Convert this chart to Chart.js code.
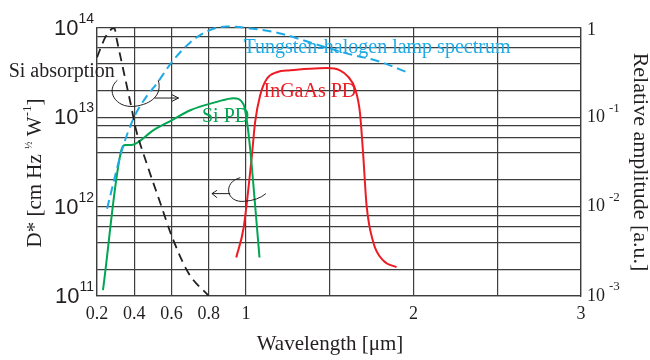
<!DOCTYPE html>
<html>
<head>
<meta charset="utf-8">
<script src="https://cdn.jsdelivr.net/npm/chart.js@4.4.1/dist/chart.umd.min.js"></script>
<style>
  html, body { margin: 0; padding: 0; background: #fff; }
  #wrap { width: 650px; height: 360px; }
</style>
</head>
<body>
<div id="wrap"><canvas id="chart" width="650" height="360"></canvas></div>
<script>
// ---- data (wavelength in um) ----
const siAbsWl = [0.20, 0.245, 0.28, 0.293, 0.307, 0.334, 0.361, 0.388, 0.406, 0.468, 0.54, 0.603, 0.692, 0.80];
const siAbsAmp = [0.47, 0.79, 0.98, 1.0, 0.73, 0.40, 0.22, 0.12, 0.078, 0.030, 0.011, 0.0046, 0.0018, 0.001];

const lampWl = [0.254, 0.334, 0.397, 0.459, 0.522, 0.604, 0.701, 0.792, 0.898, 1.026, 1.204, 1.403, 1.601, 1.799, 1.978];
const lampAmp = [0.0095, 0.043, 0.098, 0.163, 0.24, 0.42, 0.69, 0.92, 1.04, 0.99, 0.87, 0.67, 0.52, 0.42, 0.31];

const siPdWl = [0.232, 0.334, 0.352, 0.383, 0.504, 0.603, 0.701, 0.844, 0.933, 0.987, 1.006, 1.026, 1.055, 1.081];
const siPdD = [1.16e11, 4.5e12, 4.9e12, 4.9e12, 7.2e12, 9.3e12, 1.2e13, 1.49e13, 1.64e13, 1.40e13, 9.0e12, 4.3e12, 1.03e12, 2.7e11];

const ingaasWl = [0.948, 0.987, 1.015, 1.036, 1.055, 1.085, 1.125, 1.185, 1.264, 1.383, 1.482, 1.561, 1.611, 1.651, 1.680, 1.700, 1.720, 1.760, 1.819, 1.899];
const ingaasD = [2.7e11, 5.7e11, 1.6e12, 3.8e12, 8.9e12, 1.77e13, 2.7e13, 3.2e13, 3.36e13, 3.5e13, 3.56e13, 3.36e13, 2.83e13, 2.1e13, 1.15e13, 3.8e12, 1.04e12, 4.0e11, 2.5e11, 2.1e11];

// ---- axes ----
const xGridValues = [0.2, 0.4, 0.6, 0.8, 1, 1.5, 2, 2.5, 3];
const xLabelValues = [0.2, 0.4, 0.6, 0.8, 1, 2, 3];
const gridMantissas = [1, 2, 4, 6, 8];
const leftDecades = [11, 12, 13, 14];
const rightDecades = [0, -1, -2, -3];

const INK = '#231f20';
const GRID = '#3d3d3d';
const GREEN = '#00a651';
const RED = '#ed1c24';
const CYAN = '#1eaae6';
const SERIF = '"Liberation Serif", "Times New Roman", serif';
const SANS = '"Liberation Sans", Arial, sans-serif';

// wavelength axis: 0.2-1 and 1-3 are drawn with different spacing
const BREAK = 1;
const BREAK_FRAC = 0.3077;

class BrokenScale extends Chart.LinearScale {
  static id = 'broken';
  getPixelForValue(value) {
    const d = value <= BREAK
      ? (value - this.min) / (BREAK - this.min) * BREAK_FRAC
      : BREAK_FRAC + (value - BREAK) / (this.max - BREAK) * (1 - BREAK_FRAC);
    return this.getPixelForDecimal(d);
  }
  getValueForPixel(pixel) {
    const d = this.getDecimalForPixel(pixel);
    return d <= BREAK_FRAC
      ? this.min + d / BREAK_FRAC * (BREAK - this.min)
      : BREAK + (d - BREAK_FRAC) / (1 - BREAK_FRAC) * (this.max - BREAK);
  }
}
Chart.register(BrokenScale);

const toXY = (xs, ys) => xs.map((v, i) => ({ x: v, y: ys[i] }));

// draws "10" with a raised exponent
function drawPower(ctx, anchorX, ty, exp, opt) {
  ctx.font = opt.expFont;
  const expW = ctx.measureText(exp).width;
  ctx.font = opt.baseFont;
  const baseW = ctx.measureText('10').width;
  let bx = opt.align === 'right' ? anchorX - expW - opt.gap - baseW : anchorX;
  ctx.textAlign = 'left';
  ctx.fillText('10', bx, ty + opt.baseDy);
  ctx.font = opt.expFont;
  ctx.fillText(exp, bx + baseW + opt.gap, ty + opt.expDy);
}

// annotation geometry in (wavelength, log10 relative amplitude)
const loopRight = [[0.3095, -0.585], [0.2446, -0.697], [0.2983, -0.899], [0.4003, -0.877], [0.4969, -0.854], [0.5506, -0.742], [0.5291, -0.585]];
const shaftRight = [[0.5077, -0.784], [0.6381, -0.784], [0.6027, -0.746], [0.6027, -0.821]];
const loopLeft = [[0.9699, -1.675], [0.8728, -1.727], [0.8943, -1.962], [0.9909, -1.940], [1.0732, -1.929], [1.1190, -1.854]];
const shaftLeft = [[0.9157, -1.854], [0.8174, -1.854], [0.8443, -1.817], [0.8443, -1.899]];

const decorations = {
  id: 'decorations',
  afterDraw(chart) {
    const { ctx, chartArea: area } = chart;
    const { x, y, y1 } = chart.scales;
    const P = ([wl, la]) => [x.getPixelForValue(wl), y1.getPixelForValue(Math.pow(10, la))];
    ctx.save();
    ctx.fillStyle = INK;
    ctx.textBaseline = 'middle';

    // left decade labels (sans)
    leftDecades.forEach(e => {
      const ty = y.getPixelForValue(Math.pow(10, e));
      drawPower(ctx, area.left - 3, ty, String(e), {
        align: 'right', baseFont: `22px ${SANS}`, expFont: `14px ${SANS}`, gap: 0, baseDy: 1, expDy: -9
      });
    });

    // right decade labels (serif)
    rightDecades.forEach(e => {
      const ty = y1.getPixelForValue(Math.pow(10, e));
      if (e === 0) {
        ctx.font = `18px ${SERIF}`;
        ctx.textAlign = 'left';
        ctx.fillText('1', area.right + 6, ty + 2);
      } else {
        drawPower(ctx, area.right + 6, ty, '-' + Math.abs(e), {
          align: 'left', baseFont: `18px ${SERIF}`, expFont: `13px ${SERIF}`, gap: 4, baseDy: 0, expDy: -9
        });
      }
    });

    // left axis title, rotated
    ctx.save();
    ctx.translate(35, 173);
    ctx.rotate(-Math.PI / 2);
    const parts = [
      { t: 'D* [cm Hz ', size: 21, dy: 0 },
      { t: '½', size: 10, dy: -6 },
      { t: ' W', size: 21, dy: 0 },
      { t: '-1', size: 13, dy: -7 },
      { t: ']', size: 21, dy: 0 }
    ];
    let total = 0;
    parts.forEach(p => { ctx.font = `${p.size}px ${SERIF}`; p.w = ctx.measureText(p.t).width; total += p.w; });
    let cx = -total / 2;
    ctx.textAlign = 'left';
    parts.forEach(p => { ctx.font = `${p.size}px ${SERIF}`; ctx.fillText(p.t, cx, p.dy); cx += p.w; });
    ctx.restore();

    // x axis title
    ctx.font = `21px ${SERIF}`;
    ctx.textAlign = 'center';
    ctx.textBaseline = 'alphabetic';
    ctx.fillText('Wavelength [μm]', (area.left + area.right) / 2 - 9, 350);

    // curve labels
    ctx.font = `20px ${SERIF}`;
    ctx.textAlign = 'left';
    const label = (text, color, pos) => { const [lx, ly] = P(pos); ctx.fillStyle = color; ctx.fillText(text, lx, ly); };
    label('Si absorption', INK, [-0.2746, -0.5485]);
    label('Tungsten-halogen lamp spectrum', CYAN, [0.9866, -0.2832]);
    label('InGaAs PD', RED, [1.1048, -0.7724]);
    label('Si PD', GREEN, [0.7638, -1.0523]);

    // curly arrows
    ctx.strokeStyle = INK;
    ctx.lineWidth = 1;
    let p = loopRight.map(P);
    ctx.beginPath();
    ctx.moveTo(...p[0]);
    ctx.bezierCurveTo(...p[1], ...p[2], ...p[3]);
    ctx.bezierCurveTo(...p[4], ...p[5], ...p[6]);
    ctx.stroke();
    p = shaftRight.map(P);
    ctx.beginPath();
    ctx.moveTo(...p[0]); ctx.lineTo(...p[1]);
    ctx.moveTo(...p[2]); ctx.lineTo(...p[1]); ctx.lineTo(...p[3]);
    ctx.stroke();

    p = loopLeft.map(P);
    ctx.beginPath();
    ctx.moveTo(...p[0]);
    ctx.bezierCurveTo(...p[1], ...p[2], ...p[3]);
    ctx.quadraticCurveTo(...p[4], ...p[5]);
    ctx.stroke();
    p = shaftLeft.map(P);
    ctx.beginPath();
    ctx.moveTo(...p[0]); ctx.lineTo(...p[1]);
    ctx.moveTo(...p[2]); ctx.lineTo(...p[1]); ctx.lineTo(...p[3]);
    ctx.stroke();

    ctx.restore();
  }
};

new Chart(document.getElementById('chart'), {
  type: 'line',
  data: {
    datasets: [
      { label: 'Si absorption', data: toXY(siAbsWl, siAbsAmp), yAxisID: 'y1',
        borderColor: INK, borderWidth: 1.8, borderDash: [9, 6] },
      { label: 'Tungsten-halogen lamp spectrum', data: toXY(lampWl, lampAmp), yAxisID: 'y1',
        borderColor: CYAN, borderWidth: 2, borderDash: [9, 5], clip: false },
      { label: 'Si PD', data: toXY(siPdWl, siPdD), yAxisID: 'y',
        borderColor: GREEN, borderWidth: 2 },
      { label: 'InGaAs PD', data: toXY(ingaasWl, ingaasD), yAxisID: 'y',
        borderColor: RED, borderWidth: 2 }
    ]
  },
  options: {
    responsive: false,
    animation: false,
    layout: { padding: { top: 28, left: 0, right: 0, bottom: 0 } },
    elements: {
      point: { radius: 0 },
      line: { cubicInterpolationMode: 'monotone', fill: false }
    },
    plugins: { legend: { display: false }, tooltip: { enabled: false } },
    scales: {
      x: {
        type: 'broken', min: 0.2, max: 3,
        afterBuildTicks: s => { s.ticks = xGridValues.map(v => ({ value: v })); },
        afterFit: s => { s.height = 64; },
        grid: { color: GRID, lineWidth: 1.2, drawTicks: false },
        border: { color: GRID, width: 1.3 },
        ticks: {
          autoSkip: false, maxRotation: 0, padding: 7, color: INK,
          font: { family: SERIF, size: 18 },
          callback: v => xLabelValues.includes(v) ? String(v) : ''
        }
      },
      y: {
        type: 'logarithmic', position: 'left', min: 1e11, max: 1e14,
        afterBuildTicks: s => {
          s.ticks = [11, 12, 13].flatMap(e => gridMantissas.map(m => ({ value: m * Math.pow(10, e) })))
            .concat([{ value: 1e14 }]);
        },
        afterFit: s => { s.width = 97; },
        grid: { color: GRID, lineWidth: 1.2, drawTicks: false },
        border: { color: GRID, width: 1.3 },
        ticks: { display: false }
      },
      y1: {
        type: 'logarithmic', position: 'right', min: 1e-3, max: 1,
        afterFit: s => { s.width = 69; },
        grid: { display: false, drawTicks: false },
        border: { color: GRID, width: 1.3 },
        ticks: { display: false },
        title: {
          display: true, text: 'Relative amplitude [a.u.]', color: INK,
          font: { family: SERIF, size: 22, lineHeight: 0.9 }, padding: 0
        }
      }
    }
  },
  plugins: [decorations]
});
</script>
</body>
</html>
